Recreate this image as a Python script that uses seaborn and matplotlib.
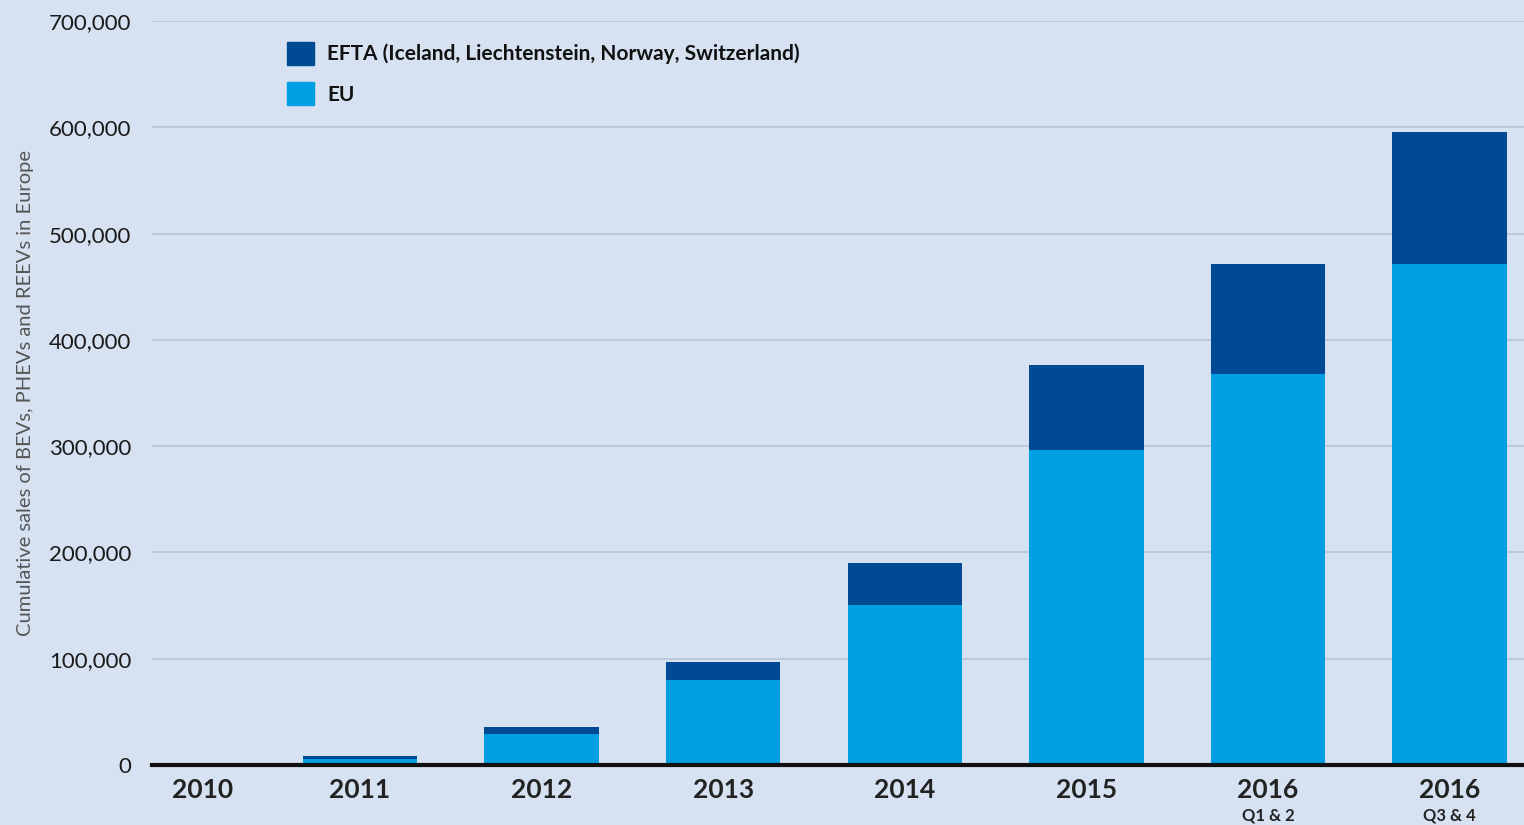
import matplotlib
matplotlib.use("Agg")
import matplotlib.pyplot as plt
import matplotlib.transforms as mtransforms
import seaborn as sns
import pandas as pd
from matplotlib.patches import Patch
from matplotlib.ticker import FuncFormatter

# values (cumulative sales)
periods = ["2010", "2011", "2012", "2013", "2014", "2015", "2016 Q1 & 2", "2016 Q3 & 4"]
tick_main = ["2010", "2011", "2012", "2013", "2014", "2015", "2016", "2016"]
tick_sub = ["", "", "", "", "", "", "Q1 & 2", "Q3 & 4"]
eu = [0, 6000, 29000, 80000, 151000, 296000, 368000, 471000]
efta = [0, 2500, 6700, 17000, 39000, 80000, 103000, 125000]

df = pd.DataFrame({"period": periods, "EU": eu, "EFTA": efta})
df["total"] = df["EU"] + df["EFTA"]

bg = "#d6e2f2"
c_eu = "#009fe3"
c_efta = "#004a93"

sns.set_style("white")
plt.rcParams["font.family"] = ["Lato", "DejaVu Sans"]

fig = plt.figure(figsize=(15.24, 8.25), dpi=100, facecolor=bg)
ax = fig.add_axes([0.0997, 0.0727, 0.9003, 0.9018])
ax.set_facecolor(bg)

sns.barplot(data=df, x="period", y="total", color=c_efta, width=0.63,
            saturation=1, linewidth=0, ax=ax, zorder=2)
sns.barplot(data=df, x="period", y="EU", color=c_eu, width=0.63,
            saturation=1, linewidth=0, ax=ax, zorder=3)

ax.set_ylim(0, 700000)
ax.set_xlim(-0.146, 7.41)
ax.set_yticks(range(0, 700001, 100000))
ax.yaxis.set_major_formatter(FuncFormatter(lambda v, p: f"{int(v):,}"))
ax.grid(axis="y", color="#b9c5d6", linewidth=1.2, zorder=0)
ax.set_axisbelow(True)
for s in ["top", "right", "left"]:
    ax.spines[s].set_visible(False)
ax.spines["bottom"].set_color("#111111")
ax.spines["bottom"].set_linewidth(3)
ax.spines["bottom"].set_zorder(5)

ax.tick_params(axis="y", length=0, pad=15, labelsize=16, labelcolor="#1a1a1a")
ax.tick_params(axis="x", length=0, pad=9, labelsize=19, labelcolor="#222222")
ax.set_xticks(range(len(periods)))
ax.set_xticklabels(tick_main, fontweight="bold")
# the first year label sits a little right of its slot in the reference
first = ax.get_xticklabels()[0]
first.set_transform(first.get_transform() +
                    mtransforms.ScaledTranslation(0.24, 0, fig.dpi_scale_trans))
for i, sub in enumerate(tick_sub):
    if sub:
        ax.text(i, -0.068, sub, transform=ax.get_xaxis_transform(), ha="center",
                va="center", fontsize=12, fontweight="bold", color="#222222")

ax.set_xlabel("")
ax.set_ylabel("Cumulative sales of BEVs, PHEVs and REEVs in Europe",
              fontsize=14.5, color="#555555")
ax.yaxis.set_label_coords(-0.086, 0.5)

handles = [Patch(color=c_efta, label="EFTA (Iceland, Liechtenstein, Norway, Switzerland)"),
           Patch(color=c_eu, label="EU")]
leg = ax.legend(handles=handles, loc="upper left", bbox_to_anchor=(0.085, 0.997),
                frameon=False, handlelength=1.3, handleheight=1.3, handletextpad=0.6,
                labelspacing=0.85, prop={"weight": "bold", "size": 15})
for t in leg.get_texts():
    t.set_color("#111111")

fig.savefig("out.png", dpi=100, facecolor=bg)
